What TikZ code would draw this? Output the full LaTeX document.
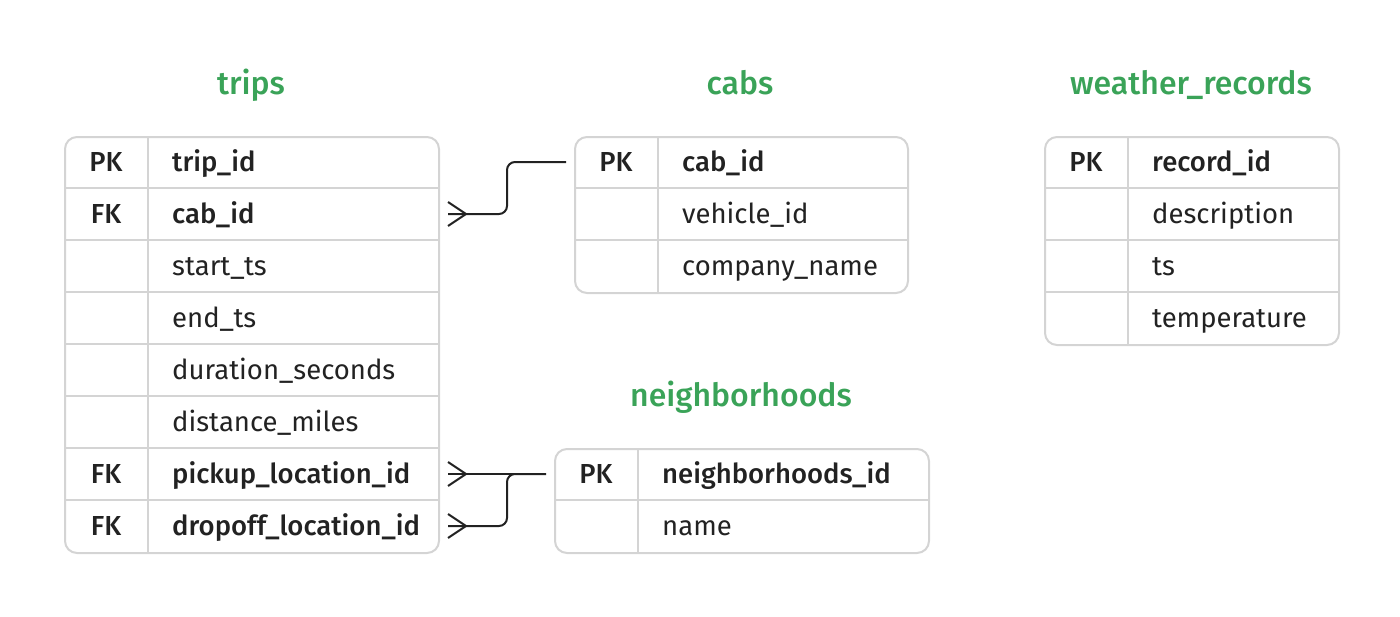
\documentclass[tikz,border=0pt]{standalone}
\usepackage{fontspec}
\setmainfont{Fira Sans}[BoldFont={Fira Sans Medium}]
\usepackage{tikz}
\usetikzlibrary{positioning}
\definecolor{titlegreen}{RGB}{58,163,88}
\definecolor{gridgray}{RGB}{212,212,212}
\definecolor{inkblack}{RGB}{34,34,34}
\tikzstyle{erdbox} = [draw=gridgray, fill=white, line width=2pt, rounded corners=12pt,
    anchor=north west, inner sep=0pt]
\tikzstyle{tabletitle} = [text=titlegreen, anchor=base, font=\fontsize{32}{36}\selectfont\bfseries]
\tikzstyle{keyrow} = [text=inkblack, inner sep=0pt, font=\fontsize{27.5}{32}\selectfont\bfseries]
\tikzstyle{plainrow} = [text=inkblack, inner sep=0pt, font=\fontsize{27.5}{32}\selectfont]
\tikzstyle{rowrule} = [draw=gridgray, line width=2pt]
\tikzstyle{relation} = [draw=inkblack, line width=2pt, rounded corners=8pt]
\newcommand{\crowfoot}[1]{\draw[relation, rounded corners=0pt] ([yshift=12pt]#1) -- ++(18,12) -- ++(-18,12);}

\begin{document}
\begin{tikzpicture}[x=1pt, y=-1pt]
        \useasboundingbox (0,0) rectangle (1400,616);

        % trips
        \node [tabletitle] (trips-title) at (251,94) {trips};
        \node [erdbox, minimum width=374pt, minimum height=416pt] (trips) at (64,136) {};
        \foreach \i in {1,...,7}
            \draw [rowrule] (64,136+52*\i) -- (438,136+52*\i);
        \draw [rowrule] (148,136) -- (148,552);
        \foreach \s/\k/\f [count=\i] in {keyrow/PK/trip\_id, keyrow/FK/cab\_id,
            plainrow//start\_ts, plainrow//end\_ts, plainrow//duration\_seconds,
            plainrow//distance\_miles, keyrow/FK/pickup\_location\_id,
            keyrow/FK/dropoff\_location\_id} {
            \coordinate (trips-r\i) at (64,136+52*\i-26);
            \node [\s, anchor=base] (trips-k\i) at (106,136+52*\i-16.5) {\k};
            \node [\s, anchor=base west] (trips-f\i) at (172,136+52*\i-16.5) {\f};
        }

        % cabs
        \node [tabletitle] (cabs-title) at (740,94) {cabs};
        \node [erdbox, minimum width=333pt, minimum height=156pt] (cabs) at (574,136) {};
        \foreach \i in {1,2}
            \draw [rowrule] (574,136+52*\i) -- (907,136+52*\i);
        \draw [rowrule] (658,136) -- (658,292);
        \foreach \s/\k/\f [count=\i] in {keyrow/PK/cab\_id, plainrow//vehicle\_id,
            plainrow//company\_name} {
            \coordinate (cabs-r\i) at (574,136+52*\i-26);
            \node [\s, anchor=base] (cabs-k\i) at (616,136+52*\i-16.5) {\k};
            \node [\s, anchor=base west] (cabs-f\i) at (682,136+52*\i-16.5) {\f};
        }

        % weather_records
        \node [tabletitle] (weather-title) at (1191,94) {weather\_records};
        \node [erdbox, minimum width=294pt, minimum height=208pt] (weather) at (1044,136) {};
        \foreach \i in {1,2,3}
            \draw [rowrule] (1044,136+52*\i) -- (1338,136+52*\i);
        \draw [rowrule] (1128,136) -- (1128,344);
        \foreach \s/\k/\f [count=\i] in {keyrow/PK/record\_id, plainrow//description,
            plainrow//ts, plainrow//temperature} {
            \coordinate (weather-r\i) at (1044,136+52*\i-26);
            \node [\s, anchor=base] (weather-k\i) at (1086,136+52*\i-16.5) {\k};
            \node [\s, anchor=base west] (weather-f\i) at (1152,136+52*\i-16.5) {\f};
        }

        % neighborhoods
        \node [tabletitle] (nb-title) at (741,406) {neighborhoods};
        \node [erdbox, minimum width=374pt, minimum height=104pt] (nb) at (554,448) {};
        \draw [rowrule] (554,500) -- (928,500);
        \draw [rowrule] (638,448) -- (638,552);
        \foreach \s/\k/\f [count=\i] in {keyrow/PK/neighborhoods\_id, plainrow//name} {
            \coordinate (nb-r\i) at (554,448+52*\i-26);
            \node [\s, anchor=base] (nb-k\i) at (596,448+52*\i-16.5) {\k};
            \node [\s, anchor=base west] (nb-f\i) at (662,448+52*\i-16.5) {\f};
        }

        % Connections
        \coordinate (cabfk) at ([xshift=8pt]trips.east |- trips-r2);
        \coordinate (pickfk) at ([xshift=8pt]trips.east |- trips-r7);
        \coordinate (dropfk) at ([xshift=8pt]trips.east |- trips-r8);
        \coordinate (cabpk) at ([xshift=-8pt]cabs.west |- cabs-r1);
        \coordinate (nbpk) at ([xshift=-8pt]nb.west |- nb-r1);
        \draw [relation] (cabfk) -- ++(59,0) |- (cabpk);
        \draw [relation] (pickfk) -- (nbpk);
        \draw [relation] (dropfk) -- ++(59,0) |- (nbpk);
        \crowfoot{cabfk}
        \crowfoot{pickfk}
        \crowfoot{dropfk}
\end{tikzpicture}
\end{document}
